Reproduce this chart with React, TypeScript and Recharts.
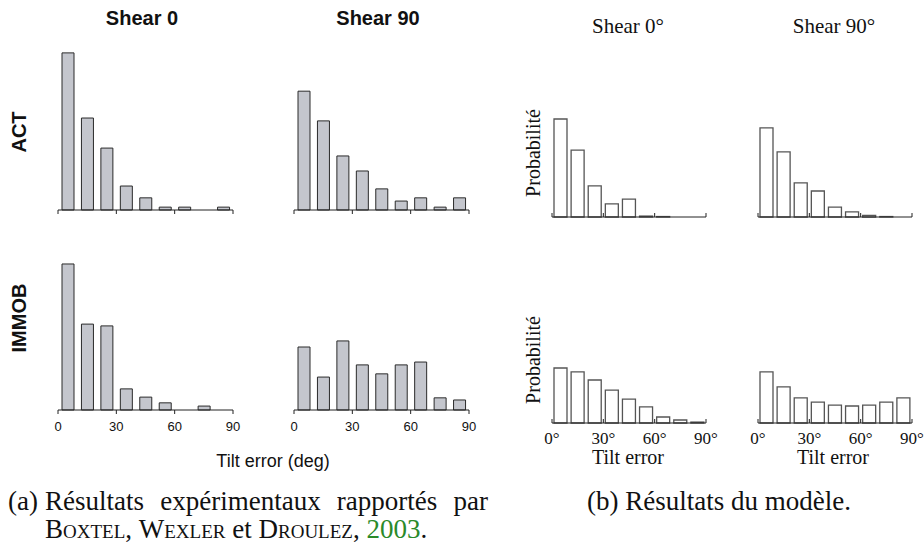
import React from 'react';
import { BarChart, Bar, XAxis, YAxis } from 'recharts';

// bin centres of the tilt-error histograms (10 deg bins)
const BINS = [5, 15, 25, 35, 45, 55, 65, 75, 85];
const TICKS = [0, 30, 60, 90];
const EXP_TICK_LABELS = ['0', '30', '60', '90'];
const MODEL_TICK_LABELS = ['0°', '30°', '60°', '90°'];

// (a) experimental results, % of trials
const actShear0 = [43.9, 25.7, 17.3, 6.7, 3.4, 0.8, 0.8, 0, 0.8];
const actShear90 = [33.2, 24.9, 15.1, 10.9, 5.9, 2.5, 3.4, 0.8, 3.4];
const immobShear0 = [40.8, 24.0, 23.5, 5.9, 3.6, 2.0, 0, 1.1, 0];
const immobShear90 = [17.6, 9.2, 19.3, 12.6, 10.1, 12.6, 13.4, 3.4, 2.8];

// (b) model results, probability in %
const modelActShear0 = [42.6, 29.1, 13.5, 5.7, 7.8, 0.4, 0.2, 0, 0];
const modelActShear90 = [38.7, 28.3, 14.8, 11.3, 4.3, 2.2, 0.7, 0.2, 0];
const modelImmobShear0 = [23.9, 22.2, 18.7, 14.3, 10.4, 7.0, 2.6, 1.3, 0.4];
const modelImmobShear90 = [22.2, 15.7, 10.9, 9.1, 7.8, 7.4, 7.8, 9.1, 10.9];

const CAPTION_A1 = ['Résultats', 'expérimentaux', 'rapportés', 'par'];

const SANS = '"Liberation Sans", Arial, sans-serif';
const SERIF = '"Liberation Serif", "Times New Roman", serif';

const toRows = (vals: number[]) => BINS.map((x, i) => ({ x, v: vals[i] }));

const PAD = 18;
const TOP_PAD = 4;

interface PanelProps {
  plotX: number;
  baseY: number;
  plotW: number;
  plotH: number;
  yMax: number;
  values: number[];
  barSize: number;
  fill: string;
  stroke: string;
  strokeWidth: number;
  up: boolean;
  labels?: string[];
  font: string;
  fontSize: number;
  labelDy: number;
}

const Panel = (p: PanelProps) => {
  const axisH = 30;
  const renderTick = (t: any) => {
    const i = TICKS.indexOf(t.payload.value);
    return (
      <g>
        <line x1={t.x} x2={t.x} y1={t.y} y2={p.up ? t.y - 4 : t.y + 4} stroke="#222" strokeWidth={1} />
        {p.labels && (
          <text
            x={t.x}
            y={t.y + p.labelDy}
            textAnchor="middle"
            dominantBaseline="central"
            fontFamily={p.font}
            fontSize={p.fontSize}
            fill="#111"
          >
            {p.labels[i]}
          </text>
        )}
      </g>
    );
  };
  return (
    <div style={{ position: 'absolute', left: p.plotX - PAD, top: p.baseY - p.plotH - TOP_PAD }}>
      <BarChart
        width={p.plotW + PAD * 2}
        height={TOP_PAD + p.plotH + axisH}
        data={toRows(p.values)}
        margin={{ top: TOP_PAD, right: PAD, bottom: 0, left: PAD }}
      >
        <XAxis
          type="number"
          dataKey="x"
          domain={[0, 90]}
          ticks={TICKS}
          interval={0}
          height={axisH}
          tickSize={0}
          tickMargin={0}
          tickLine={false}
          axisLine={{ stroke: '#222', strokeWidth: 1 }}
          tick={renderTick}
        />
        <YAxis hide width={0} domain={[0, p.yMax]} />
        <Bar
          dataKey="v"
          barSize={p.barSize}
          fill={p.fill}
          stroke={p.stroke}
          strokeWidth={p.strokeWidth}
          isAnimationActive={false}
        />
      </BarChart>
    </div>
  );
};

const Label = ({ x, y, rotate, style, children }: any) => (
  <div
    style={{
      position: 'absolute',
      left: x,
      top: y,
      transform: `translate(-50%, -50%)${rotate ? ' rotate(-90deg)' : ''}`,
      whiteSpace: 'nowrap',
      lineHeight: 1,
      color: '#111',
      ...style,
    }}
  >
    {children}
  </div>
);

export default function App() {
  const exp = {
    plotW: 175,
    plotH: 170,
    yMax: 47.5,
    barSize: 12,
    fill: '#c4c6cd',
    stroke: '#2a2a2a',
    strokeWidth: 1,
    up: false,
    font: SANS,
    fontSize: 13,
    labelDy: 16,
  };
  const model = {
    plotW: 154,
    plotH: 150,
    yMax: 65.2,
    barSize: 13,
    fill: '#ffffff',
    stroke: '#555',
    strokeWidth: 1.3,
    up: true,
    font: SERIF,
    fontSize: 17,
    labelDy: 15,
  };
  const titleSans = { fontFamily: SANS, fontWeight: 700, fontSize: 20 };
  const serif = { fontFamily: SERIF };
  const caption = { ...serif, fontSize: 27, lineHeight: '30px', color: '#111', whiteSpace: 'nowrap' as const };

  return (
    <div style={{ position: 'fixed', left: 0, top: 0, width: 924, height: 548, background: '#fff', overflow: 'hidden' }}>
      {/* (a) experimental histograms */}
      <Panel {...exp} plotX={58} baseY={210} values={actShear0} />
      <Panel {...exp} plotX={294} baseY={210} values={actShear90} />
      <Panel {...exp} plotX={58} baseY={410} values={immobShear0} labels={EXP_TICK_LABELS} />
      <Panel {...exp} plotX={294} baseY={410} values={immobShear90} labels={EXP_TICK_LABELS} />

      <Label x={142} y={18} style={titleSans}>Shear 0</Label>
      <Label x={378} y={18} style={titleSans}>Shear 90</Label>
      <Label x={19} y={132} rotate style={titleSans}>ACT</Label>
      <Label x={19} y={318} rotate style={titleSans}>IMMOB</Label>
      <Label x={273} y={461} style={{ fontFamily: SANS, fontSize: 18 }}>Tilt error (deg)</Label>

      {/* (b) model histograms */}
      <Panel {...model} plotX={552} baseY={217} values={modelActShear0} />
      <Panel {...model} plotX={758} baseY={217} values={modelActShear90} />
      <Panel {...model} plotX={552} baseY={423} values={modelImmobShear0} labels={MODEL_TICK_LABELS} />
      <Panel {...model} plotX={758} baseY={423} values={modelImmobShear90} labels={MODEL_TICK_LABELS} />

      <Label x={628} y={26} style={{ ...serif, fontSize: 21 }}>Shear 0°</Label>
      <Label x={834} y={26} style={{ ...serif, fontSize: 21 }}>Shear 90°</Label>
      <Label x={533} y={153} rotate style={{ ...serif, fontSize: 20 }}>Probabilité</Label>
      <Label x={533} y={360} rotate style={{ ...serif, fontSize: 20 }}>Probabilité</Label>
      <Label x={628} y={457} style={{ ...serif, fontSize: 20 }}>Tilt error</Label>
      <Label x={833} y={457} style={{ ...serif, fontSize: 20 }}>Tilt error</Label>

      {/* captions */}
      <div style={{ position: 'absolute', left: 8, top: 486, ...caption }}>(a)</div>
      <div
        style={{
          position: 'absolute',
          left: 45,
          top: 486,
          width: 443,
          display: 'flex',
          justifyContent: 'space-between',
          ...caption,
        }}
      >
        {CAPTION_A1.map((w) => (
          <span key={w}>{w}</span>
        ))}
      </div>
      <div style={{ position: 'absolute', left: 45, top: 514, ...caption }}>
        <span style={{ fontVariant: 'small-caps' }}>Boxtel</span>, <span style={{ fontVariant: 'small-caps' }}>Wexler</span> et{' '}
        <span style={{ fontVariant: 'small-caps' }}>Droulez</span>, <span style={{ color: '#2a8a2a' }}>2003</span>.
      </div>
      <div style={{ position: 'absolute', left: 719, top: 486, transform: 'translateX(-50%)', ...caption }}>
        (b) Résultats du modèle.
      </div>
    </div>
  );
}
